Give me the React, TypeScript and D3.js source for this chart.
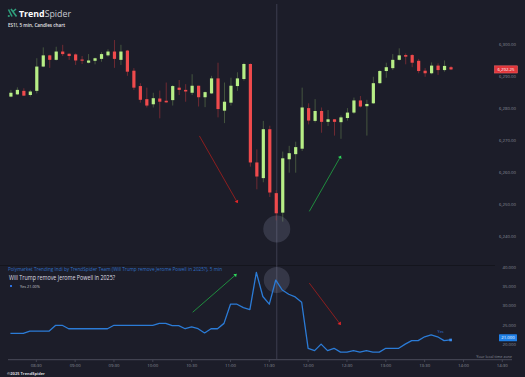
import React from 'react';
import * as d3 from 'd3';

// ---------- DATA ----------
const startMinute = 490; // 08:10, 5-minute candles
const stepMinutes = 5;
const opens = [6283.7,6284.4,6285.5,6284.2,6285.5,6293.1,6296.6,6295.2,6297.8,6297.1,6296.9,6295.3,6294.3,6294.9,6295.5,6296.6,6297.8,6295.2,6298.1,6291.8,6287.0,6282.9,6281.3,6283.1,6282.4,6282.6,6286.5,6285.8,6284.9,6287.1,6283.5,6284.7,6289.4,6279.3,6281.8,6287.0,6289.2,6293.9,6263.1,6258.2,6273.5,6253.5,6247.4,6264.1,6265.7,6267.4,6280.1,6276.1,6279.2,6275.8,6276.6,6275.7,6277.0,6278.7,6282.5,6280.7,6281.6,6287.9,6291.7,6292.6,6295.2,6296.7,6296.7,6294.9,6291.8,6291.0,6293.4,6292.0,6292.9];
const highs = [6285.8,6286.6,6286.3,6285.8,6295.7,6299.1,6296.8,6299.3,6299.9,6297.2,6297.2,6296.4,6297.0,6295.9,6297.6,6298.5,6301.4,6299.9,6298.3,6292.6,6287.9,6286.5,6284.9,6285.6,6288.1,6287.3,6288.9,6287.6,6290.7,6287.1,6285.3,6290.2,6294.3,6288.1,6289.6,6291.3,6294.3,6294.1,6267.2,6276.1,6274.6,6254.5,6266.5,6268.3,6269.6,6286.5,6281.6,6282.9,6280.3,6279.5,6276.7,6277.8,6280.1,6283.4,6283.9,6282.7,6289.9,6292.0,6294.3,6297.0,6298.8,6297.2,6297.0,6295.5,6292.6,6294.4,6294.1,6295.0,6293.3];
const lows = [6283.5,6284.2,6283.9,6283.7,6284.7,6292.9,6292.7,6295.0,6296.4,6295.2,6293.6,6293.9,6294.1,6293.8,6294.6,6296.2,6292.7,6293.6,6290.2,6285.8,6281.8,6280.3,6280.3,6276.9,6281.8,6280.9,6284.2,6282.1,6284.2,6280.6,6280.4,6284.5,6277.2,6275.4,6280.9,6285.5,6288.7,6261.8,6254.7,6256.9,6252.3,6245.0,6244.6,6259.9,6259.9,6266.7,6275.0,6275.6,6272.4,6274.5,6271.5,6270.5,6276.2,6278.3,6280.3,6271.5,6281.4,6287.7,6289.6,6292.0,6295.0,6293.8,6292.9,6291.0,6289.9,6290.7,6290.5,6291.5,6292.0];
const closes = [6284.9,6285.8,6284.0,6285.3,6293.1,6296.6,6295.2,6297.8,6297.0,6296.4,6295.0,6295.0,6295.0,6295.7,6297.0,6297.8,6295.5,6297.8,6291.5,6286.5,6282.7,6280.9,6283.2,6282.1,6281.9,6287.0,6285.8,6285.3,6287.1,6283.5,6285.1,6289.4,6279.8,6282.1,6287.1,6289.4,6293.9,6263.1,6258.7,6273.5,6253.7,6247.2,6264.4,6266.0,6267.9,6280.3,6276.2,6279.2,6275.8,6276.6,6275.8,6277.2,6278.7,6282.5,6280.6,6281.4,6287.9,6291.7,6292.9,6295.2,6296.6,6296.2,6294.3,6291.7,6291.0,6293.4,6292.0,6293.3,6292.2];
const yesValues = [22.7,22.7,22.7,23.3,23.3,23.3,23.3,24.8,24.8,23.9,23.9,23.9,23.9,23.9,23.9,23.9,24.8,24.8,24.8,24.8,24.8,24.8,24.8,25.3,25.3,24.7,24.7,23.9,24.4,23.9,22.8,23.9,23.9,25.3,30.3,30.3,29.4,28.9,38.6,32.3,30.3,36.6,34.0,32.9,32.2,30.8,18.8,18.2,19.9,18.2,18.8,17.8,17.8,18.2,17.8,18.2,17.8,17.8,18.8,18.8,18.8,19.9,20.8,20.8,21.8,22.3,21.8,20.8,21.0];

const timeTickLabels = ['08:30','09:00','09:30','10:00','10:30','11:00','11:30','12:00','12:30','13:00','13:30','14:00','14:30'];
const priceTicks = [6240,6250,6260,6270,6280,6290,6300];
const probTicks = [20,25,30,35,40];
const lastPriceLabel = '6,292.25';
const lastProbLabel = '21.000';
const crosshairIndex = 41;
const highlightPrice = 6242.3;

// annotations in data units: [minute, value]
const priceArrows = [
  { from: [636, 6271.4], to: [665.6, 6250.4], kind: 'down' },
  { from: [720.9, 6247.8], to: [745.4, 6265.2], kind: 'up' },
];
const probArrows = [
  { from: [630.8, 28.2], to: [664.8, 38.2], kind: 'up' },
  { from: [720.9, 35.8], to: [745.2, 24.9], kind: 'down' },
];

const toMin = (s: string) => { const [h, m] = s.split(':').map(Number); return h * 60 + m; };

export default function App() {
  const W = 525, H = 377;
  const x = d3.scaleLinear().domain([510, 870]).range([36.3, 502.3]);
  const yP = d3.scaleLinear().domain([6240, 6300]).range([236.3, 44.5]);
  const yQ = d3.scaleLinear().domain([20, 40]).range([343.7, 267]);
  const bg = '#1c1d29';
  const green = '#b7ee86';
  const red = '#ef4a4c';
  const greenWick = '#45563f';
  const redWick = '#6f2a33';
  const tickCol = '#8a8d9a';
  const font = '"Open Sans", "DejaVu Sans", sans-serif';
  const fmtP = d3.format(',.2f');
  const fmtQ = d3.format('.3f');

  const candles = opens.map((o, i) => ({
    t: startMinute + i * stepMinutes, o, h: highs[i], l: lows[i], c: closes[i],
  }));
  const lineData = yesValues.map((v, i) => ({ t: startMinute + i * stepMinutes, v }));
  const line = d3.line<{ t: number; v: number }>().x(d => x(d.t)).y(d => yQ(d.v));
  const crossX = x(startMinute + crosshairIndex * stepMinutes) + 1;
  const lastLine = lineData[lineData.length - 1];
  const lastCandle = candles[candles.length - 1];

  const arrowCol = (k: string) => (k === 'up' ? '#1f8c3e' : '#8c1d1f');
  const headCol = (k: string) => (k === 'up' ? '#2fd65c' : '#e8262a');

  return (
    <svg width={W} height={H} style={{ position: 'absolute', left: 0, top: 0, background: bg }} fontFamily={font}>
      <rect x={0} y={0} width={W} height={H} fill={bg} />

      {/* header */}
      <g>
        <path d="M8.5 9.5 L12 16.5 M11 9 L16.5 16.5 M16 9 L12.5 12" stroke="#2f9e7c" strokeWidth={1.6} fill="none" />
        <circle cx={8.8} cy={16} r={1.1} fill="#2f9e7c" />
        <text x={19} y={16.6} fontSize={9.6} fill="#ffffff" textLength={52} lengthAdjust="spacingAndGlyphs">
          <tspan fontWeight={700}>Trend</tspan><tspan fill="#c9cad2">Spider</tspan>
        </text>
        <text x={8} y={26.6} fontSize={4.6} fontWeight={600} fill="#e6e6ea" textLength={57} lengthAdjust="spacingAndGlyphs">ES1!, 5 min, Candles chart</text>
      </g>

      {/* panel separator */}
      <line x1={0} x2={495} y1={265.5} y2={265.5} stroke="#14151d" strokeWidth={1} />

      {/* crosshair */}
      <line x1={crossX} x2={crossX} y1={4} y2={359} stroke="#3d3e4e" strokeWidth={1} />

      {/* price axis labels */}
      {priceTicks.map(p => (
        <text key={p} x={516} y={yP(p) + 1.5} fontSize={4.3} fill={tickCol} textAnchor="end">{fmtP(p)}</text>
      ))}
      {/* prob axis labels */}
      {probTicks.map(p => (
        <text key={p} x={516} y={yQ(p) + 2} fontSize={4.3} fill={tickCol} textAnchor="end">{fmtQ(p)}</text>
      ))}

      {/* candles */}
      {candles.map((d, i) => {
        const cx = x(d.t) + 0.5;
        const up = d.c >= d.o;
        const top = yP(Math.max(d.o, d.c));
        const bot = yP(Math.min(d.o, d.c));
        return (
          <g key={i}>
            <line x1={cx} x2={cx} y1={yP(d.h)} y2={yP(d.l)} stroke={up ? greenWick : redWick} strokeWidth={1} />
            <rect x={cx - 1.6} y={top} width={3.2} height={Math.max(1.2, bot - top)} fill={up ? green : red} />
          </g>
        );
      })}

      {/* highlight circles */}
      <circle cx={crossX} cy={yP(highlightPrice)} r={13.5} fill="rgba(170,175,210,0.18)" />
      <circle cx={crossX} cy={yQ(yesValues[crosshairIndex])} r={13} fill="rgba(170,175,210,0.18)" />

      {/* arrows */}
      {[...priceArrows.map(a => ({ ...a, y: yP })), ...probArrows.map(a => ({ ...a, y: yQ }))].map((a, i) => {
        const x1 = x(a.from[0]), y1 = a.y(a.from[1]), x2 = x(a.to[0]), y2 = a.y(a.to[1]);
        const ang = Math.atan2(y2 - y1, x2 - x1);
        const s = 2.6;
        const p1 = [x2 - s * Math.cos(ang) + s * 0.8 * Math.sin(ang), y2 - s * Math.sin(ang) - s * 0.8 * Math.cos(ang)];
        const p2 = [x2 - s * Math.cos(ang) - s * 0.8 * Math.sin(ang), y2 - s * Math.sin(ang) + s * 0.8 * Math.cos(ang)];
        return (
          <g key={i}>
            <line x1={x1} y1={y1} x2={x2} y2={y2} stroke={arrowCol(a.kind)} strokeWidth={1} />
            <path d={`M${x2},${y2} L${p1[0]},${p1[1]} L${p2[0]},${p2[1]} Z`} fill={headCol(a.kind)} />
          </g>
        );
      })}

      {/* last price label */}
      <rect x={494.5} y={yP(lastCandle.c) - 3.6} width={23} height={7.2} fill="#e0353a" stroke="#ff6b6b" strokeWidth={0.5} />
      <text x={506} y={yP(lastCandle.c) + 1.6} fontSize={4.3} fill="#ffffff" textAnchor="middle">{lastPriceLabel}</text>

      {/* polymarket panel */}
      <text x={8} y={270.5} fontSize={4.8} fill="#2f6fc4" textLength={214} lengthAdjust="spacingAndGlyphs">Polymarket Trending Indi by TrendSpider Team (Will Trump remove Jerome Powell in 2025?), 5 min</text>
      <text x={9} y={280} fontSize={6.4} fill="#dcdce2" textLength={106} lengthAdjust="spacingAndGlyphs">Will Trump remove Jerome Powell in 2025?</text>
      <rect x={10} y={285} width={2} height={2} fill="#2a6fe0" />
      <text x={20} y={287.6} fontSize={3.8} fill="#c9cad2">Yes 21.00%</text>

      <path d={line(lineData) || ''} fill="none" stroke="#2b7bd6" strokeWidth={1.3} strokeLinejoin="round" />
      <rect x={x(lastLine.t) - 1.2} y={yQ(lastLine.v) - 1.2} width={2.6} height={2.6} fill="#3a8df0" />
      <text x={x(lastLine.t) - 13} y={yQ(lastLine.v) - 6.5} fontSize={3.8} fill="#2f6fd8">Yes</text>

      <rect x={499} y={yQ(+lastProbLabel) - 5.6} width={18} height={7} fill="#1f7fe6" rx={0.6} />
      <text x={508} y={yQ(+lastProbLabel) - 0.6} fontSize={4.3} fill="#ffffff" textAnchor="middle">{lastProbLabel}</text>

      {/* x axis */}
      <line x1={8} x2={512} y1={359.7} y2={359.7} stroke="#4a4c5a" strokeWidth={1} />
      {timeTickLabels.map(l => (
        <g key={l}>
          <line x1={x(toMin(l))} x2={x(toMin(l))} y1={359.7} y2={362} stroke="#4a4c5a" strokeWidth={0.8} />
          <text x={x(toMin(l))} y={366.8} fontSize={4.3} fill={tickCol} textAnchor="middle">{l}</text>
        </g>
      ))}
      <text x={512} y={357.6} fontSize={3.8} fill={tickCol} textAnchor="end">Your local time zone</text>
      <text x={7} y={374.8} fontSize={4} fontWeight={700} fill="#d8d8de">©2025 TrendSpider</text>
    </svg>
  );
}
